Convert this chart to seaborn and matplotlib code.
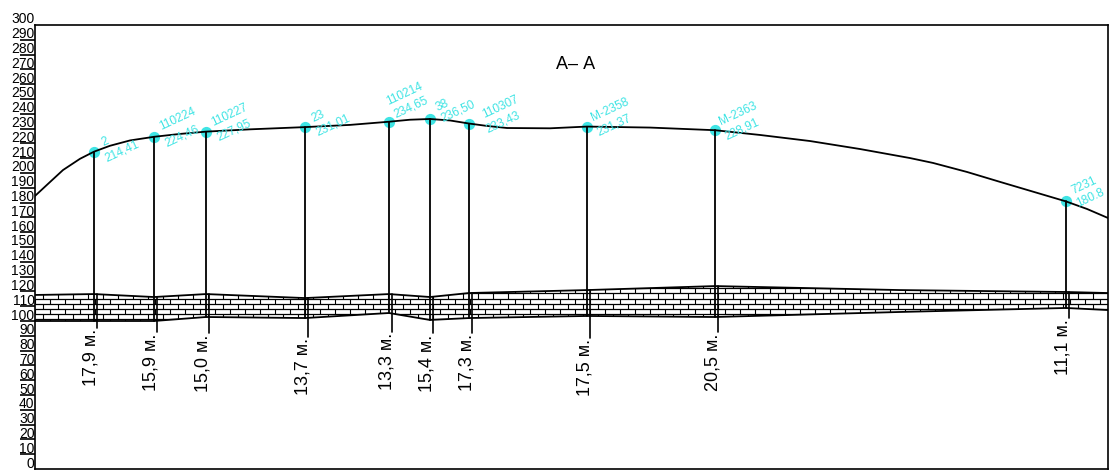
import numpy as np
import matplotlib
matplotlib.use("Agg")
import matplotlib.pyplot as plt
import matplotlib.transforms as mtransforms
import seaborn as sns

# well positions along the section, elevations
well_x = [59, 119, 171, 270, 354, 395, 434, 552, 680, 1031]
well_y = [214.41, 224.46, 227.95, 231.01, 234.65, 236.50, 233.43, 231.37, 228.91, 180.8]
well_names = ["2", "110224", "110227", "23", "110214", "38", "110307", "М-2358", "М-2363", "7231"]
well_levels = ["214,41", "224,46", "227,95", "231,01", "234,65", "236,50", "233,43", "231,37", "228,91", "180.8"]
thickness = ["17,9 м.", "15,9 м.", "15,0 м.", "13,7 м.", "13,3 м.", "15,4 м.", "17,3 м.", "17,5 м.", "20,5 м.", "11,1 м."]
well_stop = [95.3, 92.6, 91.9, 89.2, 92.6, 91.9, 91.9, 88.5, 92.6, 102]

surface_x = [0, 15, 28, 45, 59, 75, 95, 119, 145, 171, 215, 270, 315, 354, 375, 395, 415, 434, 452,
             472, 515, 552, 615, 680, 725, 775, 825, 875, 898, 932, 965, 998, 1031, 1052, 1073]
surface_y = [184.5, 193.9, 202, 209.6, 214.41, 218.4, 222, 224.46, 226.4, 227.95, 229.5, 231.01, 232.5,
             234.65, 236, 236.5, 235.5, 233.43, 231.8, 230.4, 230.2, 231.37, 230.7, 228.91, 225.7, 221.6,
             216.2, 210.1, 206.8, 200.7, 194, 187.4, 180.8, 175.7, 169.6]

layer_x = [0, 59, 119, 171, 270, 354, 395, 434, 552, 680, 865, 1031, 1073]
layer_top = [117.6, 118.2, 116.2, 118.2, 115.5, 118.2, 116.2, 118.9, 120.9, 123.6, 120.9, 119.6, 118.9]
layer_bottom = [100, 100, 100, 102.7, 102, 105.4, 100.7, 102, 103.4, 102.7, 106.1, 108.8, 107.4]

# label offsets in pixels from the well head (layout only)
name_off = [(9, 6), (7, 7), (7, 6), (8, 5), (-1, 17), (8, 8), (15, 6), (6, 6), (6, 5), (7, 7)]
level_off = [(13, -10), (13, -10), (13, -9), (13, -9), (7, 4), (13, -3), (19, -9), (12, -9), (12, -9), (12, -6)]

CYAN = "#3FE4E4"
PX = 0.72  # points per pixel at dpi 100

sns.set_style("white")
plt.rcParams["font.family"] = ["Liberation Sans", "DejaVu Sans"]

fig = plt.figure(figsize=(11.13, 4.71), dpi=100)
ax = fig.add_axes([35 / 1113, 2 / 471, 1073 / 1113, 444 / 471])

# limestone layer with brick texture
band = ax.fill_between(layer_x, layer_bottom, layer_top, color="white", lw=0, zorder=1)
clip = band.get_paths()[0]
rows = np.arange(97.6, 130, 3.5)
lines = [ax.hlines(rows, 0, 1073, color="black", lw=0.9, zorder=2)]
for i in range(len(rows) - 1):
    xs = np.arange(7.5 * (i % 2), 1080, 15)
    lines.append(ax.vlines(xs, rows[i], rows[i + 1], color="black", lw=0.8, zorder=2))
for ln in lines:
    ln.set_clip_path(clip, transform=ax.transData)

sns.lineplot(x=layer_x, y=layer_top, color="black", lw=1.3, ax=ax, zorder=3)
sns.lineplot(x=layer_x, y=layer_bottom, color="black", lw=1.3, ax=ax, zorder=3)

# wells: markers under the ground line
sns.scatterplot(x=well_x, y=well_y, color=CYAN, s=65, linewidth=0, ax=ax, zorder=3)
sns.lineplot(x=surface_x, y=surface_y, color="black", lw=1.3, ax=ax, zorder=4)

for i, x in enumerate(well_x):
    top = np.interp(x, layer_x, layer_top)
    low = np.interp(x, layer_x, layer_bottom)
    ax.plot([x, x], [well_y[i], low], color="black", lw=1.3, zorder=4)
    ax.plot([x + 2.5, x + 2.5], [top, well_stop[i]], color="black", lw=1.2, zorder=4)
    ax.annotate(well_names[i], (x, well_y[i]), xytext=(name_off[i][0] * PX, name_off[i][1] * PX),
                textcoords="offset points", color=CYAN, fontsize=8.6, rotation=25,
                rotation_mode="anchor", ha="left", va="baseline", zorder=5)
    ax.annotate(well_levels[i], (x, well_y[i]), xytext=(level_off[i][0] * PX, level_off[i][1] * PX),
                textcoords="offset points", color=CYAN, fontsize=8.6, rotation=25,
                rotation_mode="anchor", ha="left", va="baseline", zorder=5)
    ax.annotate(thickness[i], (x + 2.5, well_stop[i]), xytext=(3.5 * PX, -1), textcoords="offset points",
                color="black", fontsize=13, rotation=90, ha="right", va="top")

ax.text(541, 273, "А– А", fontsize=13, ha="center", va="center", color="black")

ax.set_xlim(0, 1073)
ax.set_ylim(0, 300)
ax.set_xticks([])
ax.set_yticks(np.arange(0, 301, 10))
ax.tick_params(axis="y", left=True, length=15 * PX, width=1.2, pad=-14.5 * PX, labelsize=10, color="black",
               labelcolor="black")
# tick labels sit just above their tick line
for label in ax.get_yticklabels():
    label.set_va("baseline")
    label.set_transform(label.get_transform() + mtransforms.Affine2D().translate(0, 1.5))
major = ax.yaxis.get_major_ticks()
major[0].tick1line.set_visible(False)
major[-1].tick1line.set_visible(False)
for spine in ax.spines.values():
    spine.set_visible(True)
    spine.set_color("black")
    spine.set_linewidth(1.2)

fig.savefig("out.png", dpi=100)
plt.close(fig)
